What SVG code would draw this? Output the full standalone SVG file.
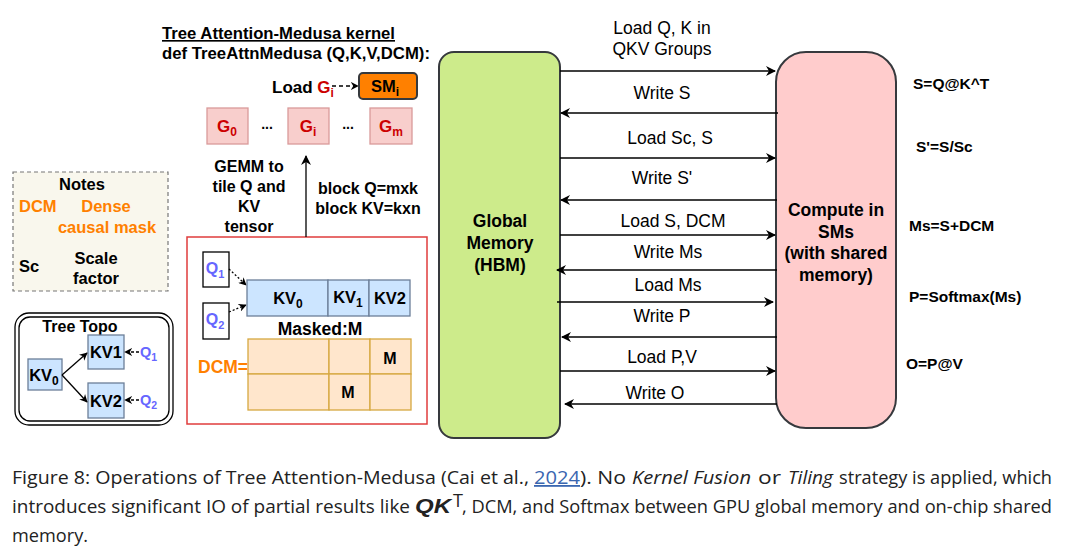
<svg xmlns="http://www.w3.org/2000/svg" width="1070" height="554" viewBox="0 0 1070 554">
<defs>
<marker id="ah" viewBox="0 0 10 10" refX="9" refY="5" markerWidth="10" markerHeight="10" markerUnits="userSpaceOnUse" orient="auto">
<path d="M0,0 L10,5 L0,10 L3,5 z" fill="#000"/>
</marker>
<marker id="ahs" viewBox="0 0 10 10" refX="9" refY="5" markerWidth="8" markerHeight="8" markerUnits="userSpaceOnUse" orient="auto">
<path d="M0,0 L10,5 L0,10 L3,5 z" fill="#000"/>
</marker>
<style>
text{font-family:"Liberation Sans",Arial,sans-serif;}
.b{font-weight:bold;}
.lbl{font-size:17.5px;text-anchor:middle;}
.f{font-size:15.5px;font-weight:bold;}
.red{fill:#cc0000;}
.or{fill:#ff8000;}
.blu{fill:#6666ff;}
.conn{stroke:#000;stroke-width:1.3;fill:none;marker-end:url(#ah);}
.kv{fill:#cce5ff;stroke:#6c7f99;stroke-width:1.3;}
.g{fill:#f8cecc;stroke:#d99a9a;stroke-width:1.3;}
.dcm{fill:#ffe6cc;stroke:#d6a840;stroke-width:1.3;}
.cap{font-family:"Open Sans","Noto Sans",sans-serif;font-size:18px;fill:#222;}
</style>
</defs>
<rect width="1070" height="554" fill="#fff"/>

<!-- Kernel title -->
<g id="title">
<text x="162" y="39" class="b" font-size="16.5" text-decoration="underline" textLength="233" lengthAdjust="spacingAndGlyphs">Tree Attention-Medusa kernel</text>
<text x="162" y="59" class="b" font-size="16.5" textLength="268" lengthAdjust="spacingAndGlyphs">def TreeAttnMedusa (Q,K,V,DCM):</text>
</g>

<!-- Load Gi -> SMi -->
<g id="loadg">
<text x="272" y="93" class="b" font-size="17">Load <tspan class="red">G</tspan><tspan class="red" font-size="12" dy="4">i</tspan></text>
<line x1="332" y1="86" x2="358" y2="86" stroke="#000" stroke-width="1.3" stroke-dasharray="4,3" marker-end="url(#ahs)"/>
</g>
<g id="smi">
<rect x="359" y="73" width="58" height="26" rx="4" fill="#ff8000" stroke="#36393d" stroke-width="2"/>
<text x="385" y="92" class="b" font-size="16.5" text-anchor="middle">SM<tspan font-size="12" dy="4">i</tspan></text>
</g>

<!-- G boxes -->
<g id="g0"><rect x="207" y="108" width="41" height="36" class="g"/><text x="227" y="132" class="b red" font-size="17" text-anchor="middle">G<tspan font-size="12" dy="4">0</tspan></text></g>
<g id="gi"><rect x="288" y="108" width="41" height="36" class="g"/><text x="308" y="132" class="b red" font-size="17" text-anchor="middle">G<tspan font-size="12" dy="4">i</tspan></text></g>
<g id="gm"><rect x="370" y="108" width="42" height="36" class="g"/><text x="391" y="132" class="b red" font-size="17" text-anchor="middle">G<tspan font-size="12" dy="4">m</tspan></text></g>
<text x="267" y="129" class="b" font-size="14" text-anchor="middle">...</text>
<text x="348" y="129" class="b" font-size="14" text-anchor="middle">...</text>

<!-- GEMM labels -->
<g id="gemm">
<text x="249" y="172" class="b" font-size="16" text-anchor="middle">GEMM to</text>
<text x="249" y="192" class="b" font-size="16" text-anchor="middle">tile Q and</text>
<text x="249" y="212" class="b" font-size="16" text-anchor="middle">KV</text>
<text x="249" y="232" class="b" font-size="16" text-anchor="middle">tensor</text>
<text x="368" y="194" class="b" font-size="16" text-anchor="middle">block Q=mxk</text>
<text x="368" y="214" class="b" font-size="16" text-anchor="middle">block KV=kxn</text>
</g>

<!-- Red tiling box -->
<g id="tilebox">
<rect x="187" y="237" width="240" height="187" fill="#fff" stroke="#e03c3c" stroke-width="1.5"/>
<rect x="203" y="252" width="26" height="35" fill="#fff" stroke="#000" stroke-width="1.3"/>
<text x="215" y="274" class="b blu" font-size="16" text-anchor="middle">Q<tspan font-size="11" dy="4">1</tspan></text>
<rect x="203" y="303" width="26" height="36" fill="#fff" stroke="#000" stroke-width="1.3"/>
<text x="215" y="325" class="b blu" font-size="16" text-anchor="middle">Q<tspan font-size="11" dy="4">2</tspan></text>
<line x1="229" y1="269" x2="246" y2="285" stroke="#000" stroke-width="1.3" stroke-dasharray="2,2" marker-end="url(#ahs)"/>
<line x1="229" y1="312" x2="246" y2="305" stroke="#000" stroke-width="1.3" stroke-dasharray="2,2" marker-end="url(#ahs)"/>
<rect x="247" y="280" width="81" height="36" class="kv"/>
<rect x="328" y="280" width="41" height="36" class="kv"/>
<rect x="369" y="280" width="41" height="36" class="kv"/>
<text x="288" y="304" class="b" font-size="16.5" text-anchor="middle">KV<tspan font-size="12" dy="4">0</tspan></text>
<text x="348" y="303" class="b" font-size="16.5" text-anchor="middle">KV<tspan font-size="12" dy="4">1</tspan></text>
<text x="390" y="304" class="b" font-size="16.5" text-anchor="middle">KV2</text>
<text x="320" y="335" class="b" font-size="17.5" text-anchor="middle">Masked:M</text>
<rect x="248" y="339" width="81" height="35" class="dcm"/>
<rect x="329" y="339" width="41" height="35" class="dcm"/>
<rect x="370" y="339" width="41" height="35" class="dcm"/>
<rect x="248" y="374" width="81" height="36" class="dcm"/>
<rect x="329" y="374" width="41" height="36" class="dcm"/>
<rect x="370" y="374" width="41" height="36" class="dcm"/>
<text x="390" y="364" class="b" font-size="16" text-anchor="middle">M</text>
<text x="348" y="398" class="b" font-size="16" text-anchor="middle">M</text>
<text x="198" y="373" class="b or" font-size="17.5">DCM=</text>
</g>

<!-- Notes -->
<g id="notes">
<rect x="13" y="172" width="155" height="119" fill="#f9f7ed" stroke="#777" stroke-width="1.2" stroke-dasharray="4,3"/>
<text x="82" y="190" class="b" font-size="16.5" text-anchor="middle">Notes</text>
<text x="19" y="212" class="b or" font-size="16.5">DCM</text>
<text x="106" y="212" class="b or" font-size="16.5" text-anchor="middle">Dense</text>
<text x="107" y="233" class="b or" font-size="16.5" text-anchor="middle">causal mask</text>
<text x="19" y="272" class="b" font-size="16.5">Sc</text>
<text x="96" y="264" class="b" font-size="16.5" text-anchor="middle">Scale</text>
<text x="96" y="284" class="b" font-size="16.5" text-anchor="middle">factor</text>
</g>

<!-- Tree Topo -->
<g id="treetopo">
<rect x="15" y="313" width="158" height="112" rx="14" fill="#fff" stroke="#000" stroke-width="1.3"/>
<rect x="19" y="317" width="150" height="104" rx="11" fill="#fff" stroke="#000" stroke-width="1.3"/>
<text x="80" y="332" class="b" font-size="16" text-anchor="middle">Tree Topo</text>
<rect x="28" y="359" width="34" height="31" class="kv"/>
<text x="44" y="381" class="b" font-size="16.5" text-anchor="middle">KV<tspan font-size="12" dy="4">0</tspan></text>
<rect x="88" y="335" width="36" height="34" class="kv"/>
<text x="106" y="358" class="b" font-size="16.5" text-anchor="middle">KV1</text>
<rect x="88" y="383" width="36" height="35" class="kv"/>
<text x="106" y="407" class="b" font-size="16.5" text-anchor="middle">KV2</text>
<line x1="62" y1="375" x2="87" y2="353" stroke="#000" stroke-width="1.3" marker-end="url(#ahs)"/>
<line x1="62" y1="375" x2="87" y2="402" stroke="#000" stroke-width="1.3" marker-end="url(#ahs)"/>
<line x1="139" y1="352" x2="125" y2="352" stroke="#000" stroke-width="1.3" stroke-dasharray="3,2" marker-end="url(#ahs)"/>
<line x1="139" y1="400" x2="125" y2="400" stroke="#000" stroke-width="1.3" stroke-dasharray="3,2" marker-end="url(#ahs)"/>
<text x="140" y="357" class="b blu" font-size="14.5">Q<tspan font-size="10.5" dy="4">1</tspan></text>
<text x="140" y="405" class="b blu" font-size="14.5">Q<tspan font-size="10.5" dy="4">2</tspan></text>
</g>

<!-- Global memory -->
<g id="globalmem">
<rect x="439" y="52" width="121" height="386" rx="15" fill="#cdeb8b" stroke="#36393d" stroke-width="2"/>
<text x="500" y="227" class="b lbl">Global</text>
<text x="500" y="249" class="b lbl">Memory</text>
<text x="500" y="271" class="b lbl">(HBM)</text>
</g>

<!-- Compute -->
<g id="compute">
<rect x="776" y="52" width="120" height="376" rx="30" fill="#ffcccc" stroke="#36393d" stroke-width="2"/>
<text x="836" y="216" class="b lbl">Compute in</text>
<text x="836" y="238" class="b lbl">SMs</text>
<text x="836" y="259" class="b lbl">(with shared</text>
<text x="836" y="281" class="b lbl">memory)</text>
</g>

<!-- Connectors -->
<g id="connectors">
<line x1="306" y1="237" x2="306" y2="156" class="conn"/>
<line x1="560" y1="71" x2="775" y2="71" class="conn"/>
<line x1="778" y1="113" x2="561" y2="113" class="conn"/>
<line x1="560" y1="158" x2="775" y2="158" class="conn"/>
<line x1="777" y1="200" x2="561" y2="200" class="conn"/>
<line x1="560" y1="235" x2="775" y2="235" class="conn"/>
<line x1="777" y1="270" x2="557" y2="270" class="conn"/>
<line x1="557" y1="302" x2="773" y2="302" class="conn"/>
<line x1="777" y1="337" x2="562" y2="337" class="conn"/>
<line x1="560" y1="371" x2="775" y2="371" class="conn"/>
<line x1="777" y1="404" x2="565" y2="404" class="conn"/>
</g>

<!-- Connector labels -->
<g id="connlabels">
<text x="662" y="34" class="lbl">Load Q, K in</text>
<text x="662" y="55" class="lbl">QKV Groups</text>
<text x="662" y="99" class="lbl">Write S</text>
<text x="670" y="144" class="lbl">Load Sc, S</text>
<text x="662" y="184" class="lbl">Write S'</text>
<text x="673" y="227" class="lbl">Load S, DCM</text>
<text x="668" y="258" class="lbl">Write Ms</text>
<text x="668" y="291" class="lbl">Load Ms</text>
<text x="662" y="322" class="lbl">Write P</text>
<text x="662" y="363" class="lbl">Load P,V</text>
<text x="655" y="399" class="lbl">Write O</text>
</g>

<!-- Formulas -->
<g id="formulas">
<text x="913" y="89" class="f">S=Q@K^T</text>
<text x="916" y="152" class="f">S'=S/Sc</text>
<text x="909" y="231" class="f">Ms=S+DCM</text>
<text x="909" y="302" class="f">P=Softmax(Ms)</text>
<text x="906" y="369" class="f">O=P@V</text>
</g>

<!-- Caption -->
<g id="caption">
<text x="12" y="484" class="cap" textLength="517" lengthAdjust="spacingAndGlyphs">Figure 8: Operations of Tree Attention-Medusa (Cai et al.,</text>
<text x="534" y="484" class="cap" style="fill:#3a66b0" text-decoration="underline" textLength="46" lengthAdjust="spacingAndGlyphs">2024</text>
<text x="580" y="484" class="cap" textLength="46" lengthAdjust="spacingAndGlyphs">). No</text>
<text x="632" y="484" class="cap" font-style="italic" textLength="119" lengthAdjust="spacingAndGlyphs">Kernel Fusion</text>
<text x="758" y="484" class="cap" textLength="23" lengthAdjust="spacingAndGlyphs">or</text>
<text x="788" y="484" class="cap" font-style="italic" textLength="45" lengthAdjust="spacingAndGlyphs">Tiling</text>
<text x="839" y="484" class="cap" textLength="213" lengthAdjust="spacingAndGlyphs">strategy is applied, which</text>
<text x="12" y="513" class="cap" textLength="398" lengthAdjust="spacingAndGlyphs">introduces significant IO of partial results like</text>
<text x="415" y="513" font-family="'Liberation Serif',serif" font-size="20" font-weight="bold" font-style="italic" fill="#222" textLength="36" lengthAdjust="spacingAndGlyphs">QK</text>
<text x="453" y="507" class="cap" font-size="11">T</text>
<text x="462" y="513" class="cap" textLength="590" lengthAdjust="spacingAndGlyphs">, DCM, and Softmax between GPU global memory and on-chip shared</text>
<text x="12" y="542" class="cap" textLength="76" lengthAdjust="spacingAndGlyphs">memory.</text>
</g>
</svg>
